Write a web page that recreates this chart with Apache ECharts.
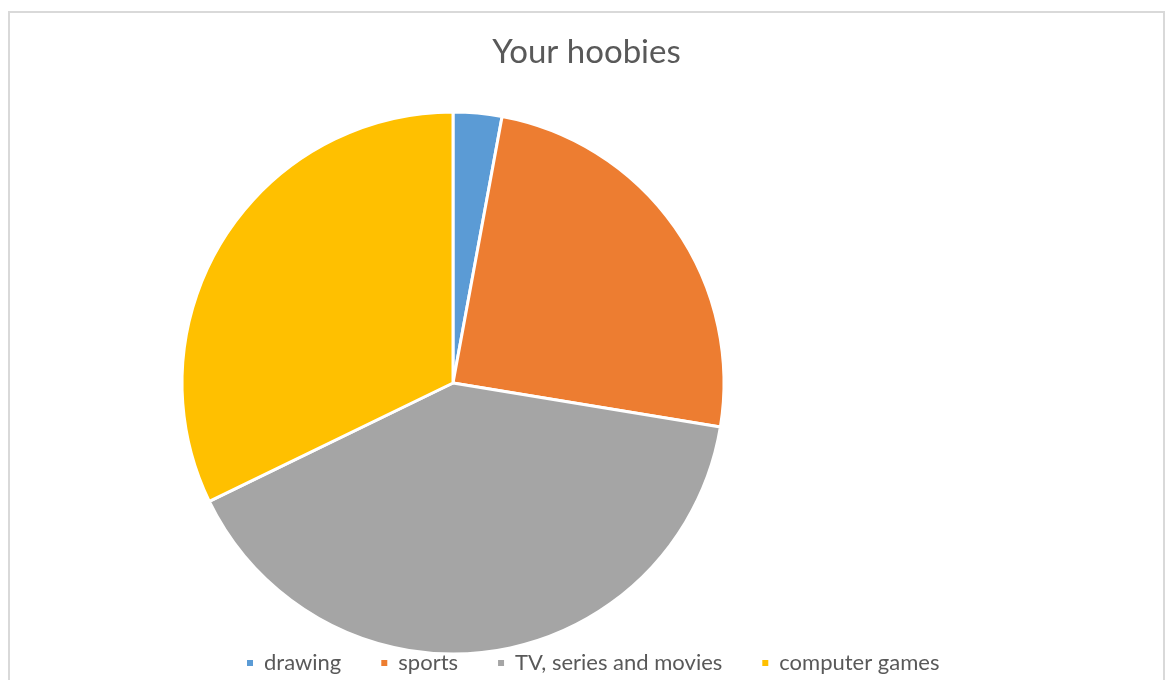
<!DOCTYPE html>
<html>
<head>
<meta charset="utf-8">
<script src="https://cdn.jsdelivr.net/npm/echarts@6/dist/echarts.min.js"></script>
<style>
  html, body { margin: 0; padding: 0; background: #fff; }
  #chart { width: 1173px; height: 680px; }
</style>
</head>
<body>
<div id="chart"></div>
<script>
// Survey answers: share of respondents per hobby (%)
const categories = ['drawing', 'sports', 'TV, series and movies', 'computer games'];
const shares = [2.9, 24.7, 40.2, 32.2];
const colors = ['#5B9BD5', '#ED7D31', '#A5A5A5', '#FFC000'];
const titleText = 'Your hoobies';

const chart = echarts.init(document.getElementById('chart'));

chart.setOption({
  animation: false,
  color: colors,
  title: {
    text: titleText,
    left: 'center',
    top: 31,
    textStyle: {
      fontFamily: 'Lato',
      fontSize: 33,
      fontWeight: 'normal',
      color: '#595959'
    }
  },
  legend: {
    data: categories,
    left: 240,
    top: 647,
    icon: 'rect',
    itemWidth: 8,
    itemHeight: 8,
    itemGap: 38,
    textStyle: {
      fontFamily: 'Lato',
      fontSize: 22,
      color: '#595959',
      padding: [0, 0, 0, 5]
    }
  },
  graphic: [{
    type: 'rect',
    shape: { x: 9, y: 12, width: 1155, height: 700 },
    style: { fill: 'none', stroke: '#D9D9D9', lineWidth: 2 },
    silent: true
  }],
  series: [{
    type: 'pie',
    center: [453, 383],
    radius: 271,
    startAngle: 90,
    clockwise: true,
    label: { show: false },
    labelLine: { show: false },
    itemStyle: { borderColor: '#ffffff', borderWidth: 3 },
    emphasis: { disabled: true },
    data: categories.map((name, i) => ({ name, value: shares[i] }))
  }]
});
</script>
</body>
</html>
